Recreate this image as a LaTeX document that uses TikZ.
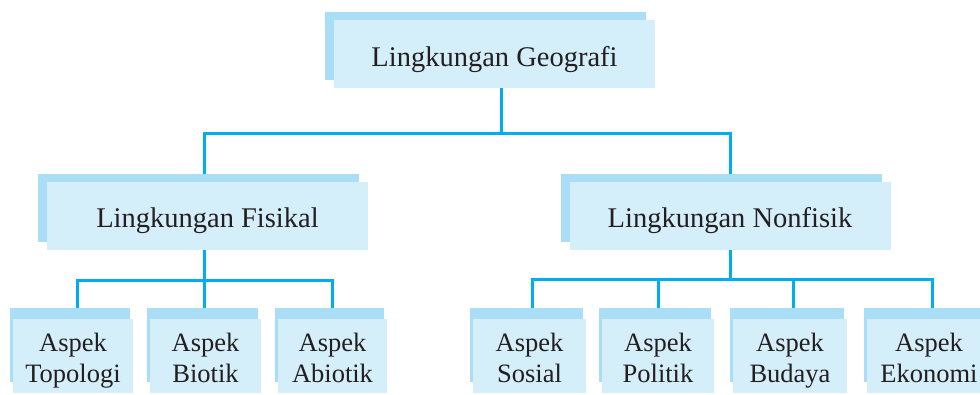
\documentclass[tikz,border=0pt]{standalone}
\usepackage{fontspec}
\setmainfont{Liberation Serif}
\newfontfamily\petafont{Liberation Serif}
\usetikzlibrary{shadows,backgrounds}
\definecolor{color_line}{RGB}{0,174,239}
\definecolor{color_front}{RGB}{212,238,250}
\definecolor{color_back}{RGB}{170,222,247}
\definecolor{color_font}{RGB}{35,31,32}
\newcommand{\aspek}[1]{\rule{0pt}{30pt}Aspek\\#1\rule[-8pt]{0pt}{8pt}}

\begin{document}
\begin{tikzpicture}[x=1pt, y=-1pt,
  lingkungan/.style={fill=color_front, text=color_font, inner sep=0pt,
    minimum width=321pt, minimum height=68pt,
    font=\petafont\fontsize{28.5}{34}\selectfont, text height=30pt, text depth=6pt,
    general shadow={fill=color_back, shadow xshift=-9pt, shadow yshift=8pt}},
  aspek/.style={fill=color_front, text=color_font, inner sep=0pt, align=center,
    minimum height=74pt, font=\petafont\fontsize{26.5}{31}\selectfont,
    general shadow={fill=color_back, shadow xshift=-3pt, shadow yshift=11pt}},
  link/.style={draw=color_line, line width=3pt}]

  \useasboundingbox (0,0) rectangle (980,394);

  % LINGKUNGAN
  \node[lingkungan] (geo) at (494.5,54) {Lingkungan Geografi};
  \node[lingkungan] (fis) at (207.5,215.5) {Lingkungan Fisikal};
  \node[lingkungan] (non) at (730,215.5) {Lingkungan Nonfisik};

  %
  % ASPEK: FISIK
  \node[aspek, minimum width=120pt] (topo) at (73,356) {\aspek{Topologi}};
  \node[aspek, minimum width=111pt] (bio) at (205.5,356) {\aspek{Biotik}};
  \node[aspek, minimum width=109pt] (abio) at (332.5,356) {\aspek{Abiotik}};
  %
  % ASPEK: NONFISIK
  \node[aspek, minimum width=113pt] (sos) at (529.5,356) {\aspek{Sosial}};
  \node[aspek, minimum width=112pt] (pol) at (658,356) {\aspek{Politik}};
  \node[aspek, minimum width=114pt] (bud) at (790,356) {\aspek{Budaya}};
  \node[aspek, minimum width=124pt] (eko) at (929,356) {\aspek{Ekonomi}};

  %
  % GARIS
  \coordinate (hub_geo) at (501,133);
  \coordinate (hub_fis) at (204,280);
  \coordinate (hub_non) at (730,279);
  \begin{scope}[on background layer]
    \draw[link] (hub_geo |- geo.south) -- (hub_geo);
    \draw[link] ([xshift=-3.5pt]fis.north) |- (hub_geo) -| (non.north);
    %
    \draw[link] (hub_fis |- fis.south) -- (hub_fis);
    \draw[link] ([xshift=4pt]topo.north) |- (hub_fis) -| ([xshift=-0.5pt]abio.north);
    \draw[link] (hub_fis) -- (hub_fis |- bio.north);
    %
    \draw[link] (non.south) -- (hub_non);
    \draw[link] ([xshift=2.5pt]sos.north) |- (hub_non) -| ([xshift=3pt]eko.north);
    \draw[link] (pol.north) -- (pol.north |- hub_non);
    \draw[link] ([xshift=3pt]bud.north) -- ([xshift=3pt]bud.north |- hub_non);
  \end{scope}

\end{tikzpicture}
\end{document}
